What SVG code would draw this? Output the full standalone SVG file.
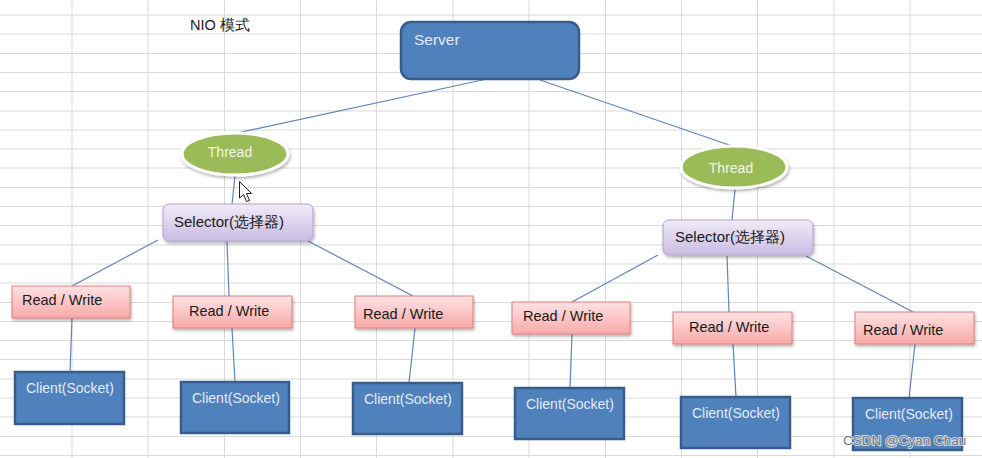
<svg xmlns="http://www.w3.org/2000/svg" width="982" height="458" viewBox="0 0 982 458">
<style>
.grid line{stroke:#d9d9d9;stroke-width:1}
.conn line{stroke:#5f84bb;stroke-width:1.2}
.blue{fill:#4f81bd;stroke:#385d8a;stroke-width:2.5}
.thread{fill:#9bbb59;stroke:#ffffff;stroke-width:3;filter:url(#sh)}
.sel{fill:url(#gSel);stroke:#b3a2c7;stroke-width:1;filter:url(#sh)}
.rw{fill:url(#gRw);stroke:#e07f7c;stroke-width:1;filter:url(#sh)}
.t{font-family:"Liberation Sans",Arial,sans-serif}
.tl{fill:#e3ebf6}
.tg{fill:#f1f5e6}
.td{fill:#1a1a1a}
</style>
<defs>
<linearGradient id="gSel" x1="0" y1="0" x2="0" y2="1">
<stop offset="0" stop-color="#f0ebf8"/>
<stop offset="1" stop-color="#c9bce3"/>
</linearGradient>
<linearGradient id="gRw" x1="0" y1="0" x2="0" y2="1">
<stop offset="0" stop-color="#ffe3e3"/>
<stop offset="1" stop-color="#f7a9a9"/>
</linearGradient>
<filter id="sh" x="-20%" y="-30%" width="140%" height="170%">
<feDropShadow dx="1" dy="2" stdDeviation="1.5" flood-color="#000" flood-opacity="0.3"/>
</filter>
</defs>
<rect width="982" height="458" fill="#ffffff"/>
<g class="grid">
<line x1="72" y1="0" x2="72" y2="458"/><line x1="148" y1="0" x2="148" y2="458"/><line x1="224.5" y1="0" x2="224.5" y2="458"/><line x1="300.5" y1="0" x2="300.5" y2="458"/><line x1="376.5" y1="0" x2="376.5" y2="458"/><line x1="453" y1="0" x2="453" y2="458"/><line x1="529" y1="0" x2="529" y2="458"/><line x1="605.5" y1="0" x2="605.5" y2="458"/><line x1="681.5" y1="0" x2="681.5" y2="458"/><line x1="757.5" y1="0" x2="757.5" y2="458"/><line x1="834" y1="0" x2="834" y2="458"/><line x1="910" y1="0" x2="910" y2="458"/>
<line x1="0" y1="15" x2="982" y2="15"/><line x1="0" y1="34" x2="982" y2="34"/><line x1="0" y1="53.5" x2="982" y2="53.5"/><line x1="0" y1="72.5" x2="982" y2="72.5"/><line x1="0" y1="91.5" x2="982" y2="91.5"/><line x1="0" y1="111" x2="982" y2="111"/><line x1="0" y1="130" x2="982" y2="130"/><line x1="0" y1="149" x2="982" y2="149"/><line x1="0" y1="168" x2="982" y2="168"/><line x1="0" y1="187.5" x2="982" y2="187.5"/><line x1="0" y1="206.5" x2="982" y2="206.5"/><line x1="0" y1="225.5" x2="982" y2="225.5"/><line x1="0" y1="245" x2="982" y2="245"/><line x1="0" y1="264" x2="982" y2="264"/><line x1="0" y1="283" x2="982" y2="283"/><line x1="0" y1="302.5" x2="982" y2="302.5"/><line x1="0" y1="321.5" x2="982" y2="321.5"/><line x1="0" y1="340.5" x2="982" y2="340.5"/><line x1="0" y1="359.5" x2="982" y2="359.5"/><line x1="0" y1="379" x2="982" y2="379"/><line x1="0" y1="398" x2="982" y2="398"/><line x1="0" y1="417" x2="982" y2="417"/><line x1="0" y1="436.5" x2="982" y2="436.5"/><line x1="0" y1="455.5" x2="982" y2="455.5"/>
</g>
<g id="title"><text class="t td" x="190" y="30" font-size="14.5">NIO 模式</text></g>
<g id="connectors" class="conn">
<line x1="487" y1="79" x2="237" y2="133"/>
<line x1="540" y1="80" x2="735" y2="147"/>
<line x1="235" y1="176" x2="232" y2="204"/>
<line x1="735" y1="189" x2="732" y2="220"/>
<line x1="158" y1="240" x2="72" y2="286"/>
<line x1="227" y1="241" x2="229" y2="296"/>
<line x1="308" y1="241" x2="413" y2="296"/>
<line x1="658" y1="255" x2="572" y2="302"/>
<line x1="727" y1="256" x2="729" y2="312"/>
<line x1="806" y1="256" x2="913" y2="312"/>
<line x1="72" y1="318" x2="70" y2="372"/>
<line x1="232" y1="328" x2="235" y2="382"/>
<line x1="415" y1="328" x2="409" y2="383"/>
<line x1="572" y1="334" x2="570" y2="388"/>
<line x1="733" y1="344" x2="736" y2="397"/>
<line x1="915" y1="344" x2="909" y2="398"/>
</g>
<g id="server"><rect class="blue" x="401" y="22" width="178" height="57" rx="10"/><text class="t tl" x="414" y="45" font-size="15.5">Server</text></g>
<g id="thread1"><ellipse class="thread" cx="235" cy="154" rx="53" ry="21"/><text class="t tg" x="230" y="157" font-size="14" text-anchor="middle">Thread</text></g>
<g id="thread2"><ellipse class="thread" cx="734" cy="167" rx="53" ry="21"/><text class="t tg" x="731" y="173" font-size="14" text-anchor="middle">Thread</text></g>
<g id="selector1"><rect class="sel" x="163" y="204" width="150" height="37" rx="6"/><text class="t td" x="174" y="227" font-size="15">Selector(选择器)</text></g>
<g id="selector2"><rect class="sel" x="663" y="220" width="150" height="35" rx="6"/><text class="t td" x="675" y="242" font-size="15">Selector(选择器)</text></g>
<g id="rw1"><rect class="rw" x="12" y="286" width="118" height="32"/><text class="t td" x="22" y="305" font-size="14.5">Read / Write</text></g>
<g id="rw2"><rect class="rw" x="173" y="296" width="119" height="32"/><text class="t td" x="189" y="316" font-size="14.5">Read / Write</text></g>
<g id="rw3"><rect class="rw" x="355" y="296" width="118" height="32"/><text class="t td" x="363" y="319" font-size="14.5">Read / Write</text></g>
<g id="rw4"><rect class="rw" x="512" y="302" width="118" height="32"/><text class="t td" x="523" y="321" font-size="14.5">Read / Write</text></g>
<g id="rw5"><rect class="rw" x="673" y="312" width="119" height="32"/><text class="t td" x="689" y="332" font-size="14.5">Read / Write</text></g>
<g id="rw6"><rect class="rw" x="855" y="312" width="119" height="32"/><text class="t td" x="863" y="335" font-size="14.5">Read / Write</text></g>
<g id="client1"><rect class="blue" x="15" y="372" width="109" height="52"/><text class="t tl" x="26" y="393" font-size="14">Client(Socket)</text></g>
<g id="client2"><rect class="blue" x="181" y="382" width="108" height="51"/><text class="t tl" x="192" y="403" font-size="14">Client(Socket)</text></g>
<g id="client3"><rect class="blue" x="353" y="383" width="109" height="51"/><text class="t tl" x="364" y="404" font-size="14">Client(Socket)</text></g>
<g id="client4"><rect class="blue" x="515" y="388" width="109" height="51"/><text class="t tl" x="526" y="409" font-size="14">Client(Socket)</text></g>
<g id="client5"><rect class="blue" x="681" y="397" width="109" height="51"/><text class="t tl" x="692" y="418" font-size="14">Client(Socket)</text></g>
<g id="client6"><rect class="blue" x="853" y="398" width="109" height="52"/><text class="t tl" x="865" y="419" font-size="14">Client(Socket)</text></g>
<g id="cursor"><path d="M239.5,181.5 L239.5,198 L243.5,194.5 L246.5,201.5 L249.5,200.5 L246.5,193.5 L251.5,193.5 Z" fill="#ffffff" stroke="#222" stroke-width="1" stroke-linejoin="round"/></g>
<g id="watermark"><text class="t" x="843" y="445" font-size="13.5" fill="#7a7a7a" stroke="#ffffff" stroke-width="2" paint-order="stroke" stroke-opacity="0.7">CSDN @Cyan Chau</text></g>
</svg>
